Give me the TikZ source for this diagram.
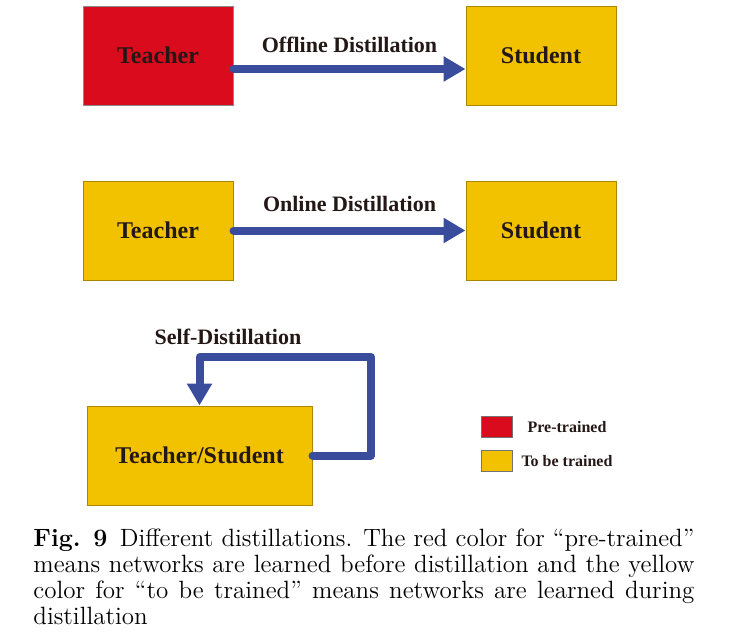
\documentclass[tikz,border=0pt]{standalone}
\usepackage{fontspec}
\newfontfamily\labelfont{Liberation Serif}
\usepackage{tikz}
\usetikzlibrary{arrows.meta, positioning, calc}

\definecolor{pretrained}{RGB}{217,11,28}
\definecolor{totrain}{RGB}{242,194,0}
\definecolor{flowblue}{RGB}{58,77,156}
\definecolor{labelink}{RGB}{35,24,21}

\begin{document}
\begin{tikzpicture}[
    x=0.5pt, y=-0.5pt,
    node distance=37.5pt and 116pt,
    block/.style={rectangle, draw=black!45, line width=0.5pt, minimum width=75pt, minimum height=49.5pt, text=labelink, font=\labelfont\bfseries\fontsize{12}{14}\selectfont},
    redblock/.style={block, fill=pretrained},
    yellowblock/.style={block, fill=totrain, draw=totrain!70!black},
    arrow/.style={flowblue, line width=4pt, line cap=round, -{Triangle[width=12pt, length=11pt]}},
    loop/.style={flowblue, line width=4pt, line cap=round, line join=round, -{Triangle[width=12pt, length=11pt]}},
    arrowlabel/.style={text=labelink, font=\labelfont\bfseries\fontsize{11}{13}\selectfont},
    swatch/.style={rectangle, draw=black!55, line width=0.5pt, minimum width=15.5pt, minimum height=10.5pt, inner sep=0pt},
    legendtext/.style={text=labelink, font=\labelfont\bfseries\fontsize{8}{10}\selectfont}
]
\useasboundingbox (0,0) rectangle (732,633);

% Nodes

\node[redblock] (teacherA) at (158,55.5) {Teacher};
\node[yellowblock, right=of teacherA] (studentA) {Student};

\node[yellowblock, below=of teacherA] (teacherB) {Teacher};
\node[yellowblock, right=of teacherB] (studentB) {Student};

\node[yellowblock, minimum width=112.5pt] (selfnet) at (199.5,455.5) {Teacher/Student};

% Arrows

\draw[arrow] ([yshift=-6.75pt]teacherA.east) -- node[arrowlabel, above=3pt] (offline) {Offline Distillation} ([yshift=-6.75pt]studentA.west);

\draw[arrow] (teacherB.east) -- node[arrowlabel, above=4pt] (online) {Online Distillation} (studentB.west);

% Self-distillation loop

\coordinate (loopcorner) at (371,357);
\draw[loop] (selfnet.east) -| (loopcorner) -| (selfnet.north);
\node[arrowlabel] (selflabel) at (228,337) {Self-Distillation};

% Legend

\node[swatch, fill=pretrained] (redkey) at (496.5,426.5) {};
\node[legendtext] (redtext) at (567,427) {Pre-trained};
\node[swatch, fill=totrain] (yellowkey) at (496.5,461) {};
\node[legendtext] (yellowtext) at (567,461) {To be trained};

% Caption

\node[anchor=north west, inner sep=0pt, text width=330.5pt, align=justify, font=\fontsize{12.5}{13}\selectfont] (caption) at (33,528)
{\textbf{Fig. 9}\enspace Different distillations. The red color for ``pre-trained''\linebreak
means networks are learned before distillation and the yellow\linebreak
color for ``to be trained'' means networks are learned during\linebreak
distillation};

\end{tikzpicture}
\end{document}
